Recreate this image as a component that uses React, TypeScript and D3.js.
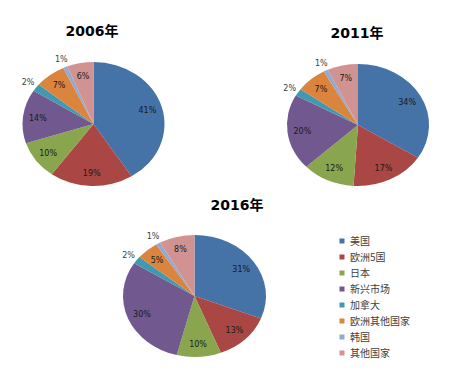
import React from "react";
import * as d3 from "d3";

const categories = ["美国", "欧洲5国", "日本", "新兴市场", "加拿大", "欧洲其他国家", "韩国", "其他国家"];
const colors = ["#4572A7", "#AA4643", "#89A54E", "#71588F", "#4198AF", "#DB843D", "#93A9CF", "#D19392"];
const years = ["2006年", "2011年", "2016年"];
const values2006 = [41, 19, 10, 14, 2, 7, 1, 6];
const values2011 = [34, 17, 12, 20, 2, 7, 1, 7];
const values2016 = [31, 13, 10, 30, 2, 5, 1, 8];

const layouts = [
  { cx: 93.5, cy: 124, rx: 71, ry: 62, tx: 92, ty: 36, values: values2006 },
  { cx: 358, cy: 125, rx: 71, ry: 61, tx: 357, ty: 38, values: values2011 },
  { cx: 194.5, cy: 296, rx: 71.5, ry: 61, tx: 237, ty: 210, values: values2016 },
];

function Pie({ cx, cy, rx, ry, tx, ty, values, title }: any) {
  const pie = d3.pie<number>().sort(null).value((d) => d);
  const arcs = pie(values);
  const arc = d3.arc<d3.PieArcDatum<number>>().innerRadius(0).outerRadius(rx);
  const sy = ry / rx;
  return (
    <g>
      <text x={tx} y={ty} textAnchor="middle" fontSize={14} fontWeight="bold" fontFamily="'DejaVu Sans', 'Noto Sans CJK SC', sans-serif" fill="#000">{title}</text>
      <g transform={`translate(${cx},${cy}) scale(1,${sy})`}>
        {arcs.map((a, i) => (
          <path key={i} d={arc(a) as string} fill={colors[i]} />
        ))}
      </g>
      {arcs.map((a, i) => {
        const mid = (a.startAngle + a.endAngle) / 2;
        const pct = a.value;
        const k = pct <= 2 ? 1.14 : 0.79;
        const x = cx + Math.sin(mid) * rx * k;
        const y = cy - Math.cos(mid) * ry * k;
        return (
          <text key={i} x={x} y={y} dy="0.35em" textAnchor="middle" fontSize={8} fontFamily="'DejaVu Sans', sans-serif" fill={pct <= 2 ? "#404040" : "#1a1a1a"}>{`${pct}%`}</text>
        );
      })}
    </g>
  );
}

export default function App() {
  const legendY = d3.scaleLinear().domain([0, 1]).range([241, 257]);
  return (
    <svg width={454} height={380} style={{ position: "absolute", left: 0, top: 0, background: "#fff" }}>
      <rect width={454} height={380} fill="#fff" />
      {layouts.map((l, i) => (
        <Pie key={i} {...l} title={years[i]} />
      ))}
      {categories.map((c, i) => (
        <g key={c}>
          <rect x={339.5} y={legendY(i) - 2.5} width={5} height={5} fill={colors[i]} />
          <text x={350} y={legendY(i)} dy="0.35em" fontSize={10} fontFamily="'Noto Sans CJK SC', sans-serif" fill="#404040">{c}</text>
        </g>
      ))}
    </svg>
  );
}
